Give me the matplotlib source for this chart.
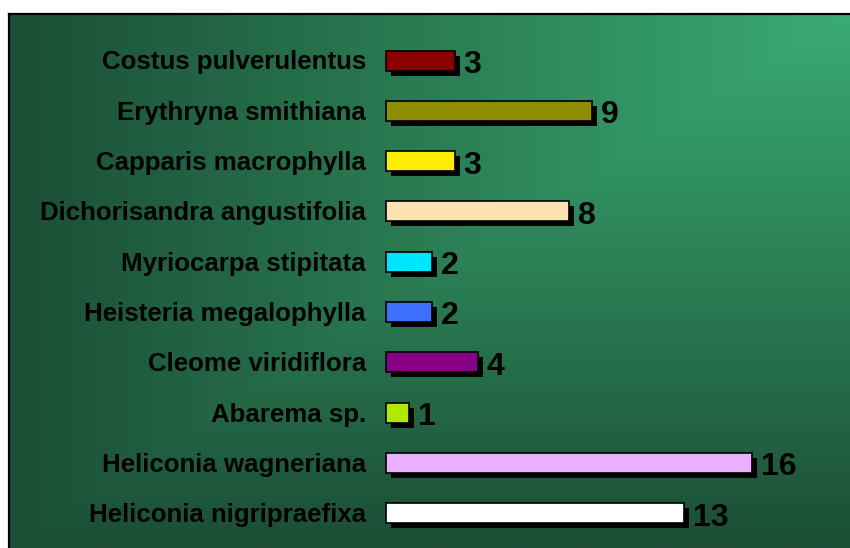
import numpy as np
import matplotlib.pyplot as plt

species = ['Costus pulverulentus', 'Erythryna smithiana', 'Capparis macrophylla',
           'Dichorisandra angustifolia', 'Myriocarpa stipitata', 'Heisteria megalophylla',
           'Cleome viridiflora', 'Abarema sp.', 'Heliconia wagneriana',
           'Heliconia nigripraefixa']
counts = [3, 9, 3, 8, 2, 2, 4, 1, 16, 13]
colors = ['#8b0000', '#8e8c00', '#ffee00', '#fde3b0', '#00e5ff', '#3f6fff',
          '#880088', '#b2e800', '#e8b0ff', '#ffffff']

W, H = 850, 548
fig = plt.figure(figsize=(W / 100, H / 100), dpi=100)

# frame starts at x=9, y=14 and runs off the right/bottom edges
left, top = 9, 14
ax = fig.add_axes([left / W, 0, 1 - left / W, (H - top) / H])

px_per_unit = 22.9
x0 = 386
ax.set_xlim(-(x0 - left) / px_per_unit, (W - x0) / px_per_unit)
step = 50.3
yc0 = 60.5
ax.set_ylim((H - yc0) / step, -(yc0 - top) / step)

# corner gradient background: light top-right, dark left and bottom
ny, nx = 200, 300
gx = np.linspace(0, 1, nx)[None, :]
gy = np.linspace(0, 1, ny)[:, None]
t = np.maximum(1 - gx, gy)
light = np.array([58, 172, 115]) / 255
dark = np.array([27, 78, 53]) / 255
img = light[None, None, :] * (1 - t[..., None]) + dark[None, None, :] * t[..., None]
xl = ax.get_xlim()
yl = ax.get_ylim()
ax.imshow(img, extent=[xl[0], xl[1], yl[0], yl[1]], aspect='auto', zorder=0,
          interpolation='bilinear')
ax.set_xlim(xl)
ax.set_ylim(yl)

y = np.arange(len(species))
bh = 20 / step
dx = 5 / px_per_unit
dy = 5 / step
ax.barh(y + dy, counts, height=bh, left=dx, color='black', zorder=2)
ax.barh(y, counts, height=bh, color=colors, edgecolor='black', linewidth=1.2, zorder=3)

for yi, name, c in zip(y, species, counts):
    ax.text(-20 / px_per_unit, yi + 2 / step, name, ha='right', va='center',
            fontsize=18.6, fontweight='bold', family='Liberation Sans', color='black')
    ax.text(c + 9 / px_per_unit, yi + 4.5 / step, str(c), ha='left', va='center',
            fontsize=23, fontweight='bold', family='Liberation Sans', color='black')

ax.set_xticks([])
ax.set_yticks([])
for s in ['right', 'bottom']:
    ax.spines[s].set_visible(False)
for s in ['top', 'left']:
    ax.spines[s].set_linewidth(1.6)

fig.savefig('out.png', dpi=100)
